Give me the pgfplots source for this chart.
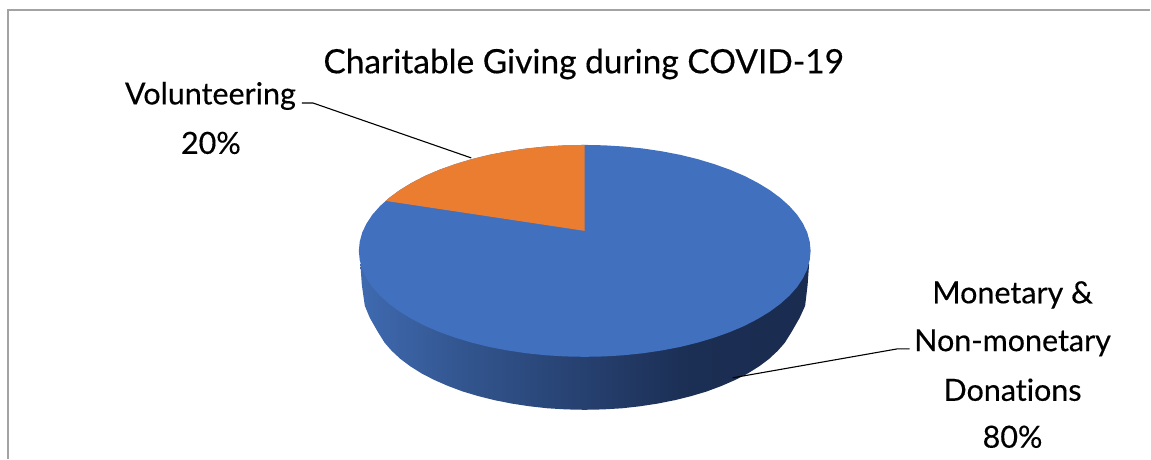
\documentclass[border=0pt]{standalone}
\usepackage{pgfplots}
\usepackage{pgfplotstable}
\usepackage{fontspec}
\pgfplotsset{compat=1.18}
\setmainfont[FakeBold=0.35,Ligatures=NoCommon]{Lato}
\definecolor{topblue}{HTML}{4170BF}
\definecolor{toporange}{HTML}{EB7D30}
\definecolor{framegray}{HTML}{A3A3A3}
\definecolor{wallA}{HTML}{3F6AB0}
\definecolor{wallB}{HTML}{335690}
\definecolor{wallC}{HTML}{26406F}
\definecolor{wallD}{HTML}{1B2E53}
\definecolor{wallE}{HTML}{1A2C50}
% Shading of the pie's outer wall, light on the left and dark on the right
\pgfdeclarehorizontalshading{pieWall}{100bp}{
  color(0bp)=(wallA);
  color(25bp)=(wallA);
  color(36bp)=(wallB);
  color(50bp)=(wallC);
  color(62bp)=(wallD);
  color(75bp)=(wallE);
  color(100bp)=(wallE)}

% Outline of the whole pie's top face
\pgfplotstableread{
x y
585 145
604.7 145.4
624.2 146.6
643.5 148.6
662.3 151.4
680.5 154.9
698 159.2
714.6 164.2
730.3 169.8
744.8 176
758.1 182.9
770.1 190.2
780.7 198
789.8 206.2
797.4 214.7
803.3 223.6
807.6 232.6
810.1 241.8
811 251
810.1 260.2
807.6 269.4
803.3 278.4
797.4 287.3
789.8 295.8
780.7 304
770.1 311.8
758.1 319.1
744.8 326
730.3 332.2
714.6 337.8
698 342.8
680.5 347.1
662.3 350.6
643.5 353.4
624.2 355.4
604.7 356.6
585 357
565.3 356.6
545.8 355.4
526.5 353.4
507.7 350.6
489.5 347.1
472 342.8
455.4 337.8
439.7 332.2
425.2 326
411.9 319.1
399.9 311.8
389.3 304
380.2 295.8
372.6 287.3
366.7 278.4
362.4 269.4
359.9 260.2
359 251
359.9 241.8
362.4 232.6
366.7 223.6
372.6 214.7
380.2 206.2
389.3 198
399.9 190.2
411.9 182.9
425.2 176
439.7 169.8
455.4 164.2
472 159.2
489.5 154.9
507.7 151.4
526.5 148.6
545.8 146.6
565.3 145.4
}\pieTop

% Volunteering wedge, 20 percent, seen in perspective
\pgfplotstableread{
x y
585 231
386 201
389.3 198
399.9 190.2
411.9 182.9
425.2 176
439.7 169.8
455.4 164.2
472 159.2
489.5 154.9
507.7 151.4
526.5 148.6
545.8 146.6
565.3 145.4
585 145
}\wedgeVolunteering

% Visible outer wall below the top face
\pgfplotstableread{
x y
809.5 264
808 285
805.5 306
800 318
792 332
785.2 342.9
778 351.1
769.5 359
759.5 366.5
748.2 373.6
735.6 380.1
721.9 386.1
707.2 391.6
691.5 396.3
675 400.4
657.8 403.8
640.1 406.5
622 408.5
603.6 409.6
585 410
566.4 409.6
548 408.5
529.9 406.5
512.2 403.8
495 400.4
478.5 396.3
462.8 391.6
448.1 386.1
434.4 380.1
421.8 373.6
410.5 366.5
400.5 359
392 351.1
384.8 342.9
378 332
370 318
365 306
362 285
360.5 264
}\pieWallOutline

\begin{document}
\begin{tikzpicture}
\begin{axis}[
  width=1151bp, height=459bp, scale only axis,
  xmin=0, xmax=1151, ymin=0, ymax=459,
  y dir=reverse, hide axis, clip=false,
]
  % Keep the full canvas inside the picture's bounding box
  \path (axis cs:0,0) rectangle (axis cs:1151,459);

  % Outer frame, open to the right and at the bottom
  \addplot[framegray, line width=1.1bp] coordinates {(8,459) (8,10) (1151,10)};

  % Pie body
  \addplot[draw=none, shading=pieWall] table {\pieWallOutline};
  \addplot[draw=none, fill=topblue] table {\pieTop};
  \addplot[draw=none, fill=toporange] table {\wedgeVolunteering};

  % Leader lines
  \addplot[black, line width=1.1bp] coordinates {(302,103) (313,103) (471.5,158)};
  \addplot[black, line width=1.1bp] coordinates {(733,378) (898,349) (910,349)};

  % Title and data labels
  \node[font=\fontsize{33.6}{38}\selectfont] at (axis cs:584,64) {Charitable Giving during COVID-19};
  \node[font=\fontsize{30.6}{34}\selectfont] at (axis cs:210.5,96) {Volunteering};
  \node[font=\fontsize{30.6}{34}\selectfont] at (axis cs:211,143) {20\%};
  \node[font=\fontsize{30.6}{34}\selectfont] at (axis cs:1013,295) {Monetary \&};
  \node[font=\fontsize{30.6}{34}\selectfont] at (axis cs:1013,343) {Non-monetary};
  \node[font=\fontsize{30.6}{34}\selectfont] at (axis cs:1013,390) {Donations};
  \node[font=\fontsize{30.6}{34}\selectfont] at (axis cs:1013,437) {80\%};
\end{axis}
\end{tikzpicture}
\end{document}
